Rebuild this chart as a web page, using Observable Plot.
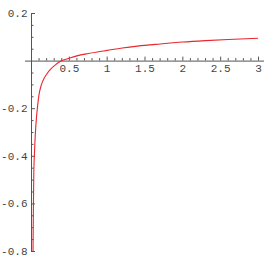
<!DOCTYPE html>
<html>
<head>
<meta charset="utf-8">
<script src="https://cdn.jsdelivr.net/npm/d3@7"></script>
<script src="https://cdn.jsdelivr.net/npm/@observablehq/plot@0.6"></script>
<style>
  html, body { margin: 0; padding: 0; background: #fff; }
</style>
</head>
<body>
<div id="chart"></div>
<script>
// Curve samples
const xs = [0.02, 0.025, 0.03, 0.04, 0.05, 0.065, 0.08, 0.1, 0.13, 0.17, 0.2, 0.25, 0.32, 0.39, 0.5, 0.6, 0.75, 0.9, 1.0, 1.2, 1.4, 1.7, 2.0, 2.3, 2.6, 3.0];
const ys = [-0.8, -0.62, -0.48, -0.38, -0.31, -0.24, -0.19, -0.14, -0.1, -0.07, -0.055, -0.035, -0.015, 0.0, 0.012, 0.022, 0.032, 0.04, 0.045, 0.055, 0.063, 0.072, 0.08, 0.086, 0.091, 0.096];

// Ticks
const xMajor = [0.5, 1, 1.5, 2, 2.5, 3];
const xLabels = ["0.5", "1", "1.5", "2", "2.5", "3"];
const yMajor = [0.2, -0.2, -0.4, -0.6, -0.8];
const yLabels = ["0.2", "-0.2", "-0.4", "-0.6", "-0.8"];
const xMinorStep = 0.1;
const yMinorStep = 0.05;

const data = xs.map((x, i) => ({x, y: ys[i]}));
const xMinor = d3.range(1, 31).map(k => k * xMinorStep).filter(v => !xMajor.some(m => Math.abs(m - v) < 1e-9));
const yMinor = d3.range(-16, 5).map(k => k * yMinorStep).filter(v => Math.abs(v) > 1e-9 && !yMajor.some(m => Math.abs(m - v) < 1e-9));

const axisColor = "#555";
const labelColor = "#444";
const font = "Liberation Mono, DejaVu Sans Mono, monospace";

const chart = Plot.plot({
  width: 264,
  height: 264,
  marginLeft: 31,
  marginRight: 6,
  marginTop: 13,
  marginBottom: 13,
  style: {background: "#fff", fontFamily: font, fontSize: "11px"},
  x: {domain: [0, 3], axis: null},
  y: {domain: [-0.8, 0.2], axis: null},
  marks: [
    // axes lines through origin
    Plot.ruleY([0], {stroke: axisColor, strokeWidth: 1, insetLeft: -6, insetRight: -6}),
    Plot.ruleX([0], {stroke: axisColor, strokeWidth: 1}),
    // x ticks (pointing up)
    Plot.ruleX(xMajor, {x: d => d, y1: 0, y2: 0, insetBottom: 4, stroke: axisColor}),
    Plot.ruleX(xMinor, {x: d => d, y1: 0, y2: 0, insetBottom: 2.5, stroke: axisColor}),
    // y ticks (pointing right)
    Plot.ruleY(yMajor, {y: d => d, x1: 0, x2: 0, insetRight: -4, stroke: axisColor}),
    Plot.ruleY(yMinor, {y: d => d, x1: 0, x2: 0, insetRight: -2.5, stroke: axisColor}),
    // labels
    Plot.text(xMajor, {x: d => d, y: 0, text: (d, i) => xLabels[i], dy: 7, fill: labelColor, fontFamily: font, fontSize: 11}),
    Plot.text(yMajor, {x: 0, y: d => d, text: (d, i) => yLabels[i], textAnchor: "end", dx: -4, fill: labelColor, fontFamily: font, fontSize: 11}),
    // curve
    Plot.line(data, {x: "x", y: "y", stroke: "#e8262c", strokeWidth: 1.1, curve: "monotone-x", clip: true})
  ]
});
document.getElementById("chart").appendChild(chart);
</script>
</body>
</html>
